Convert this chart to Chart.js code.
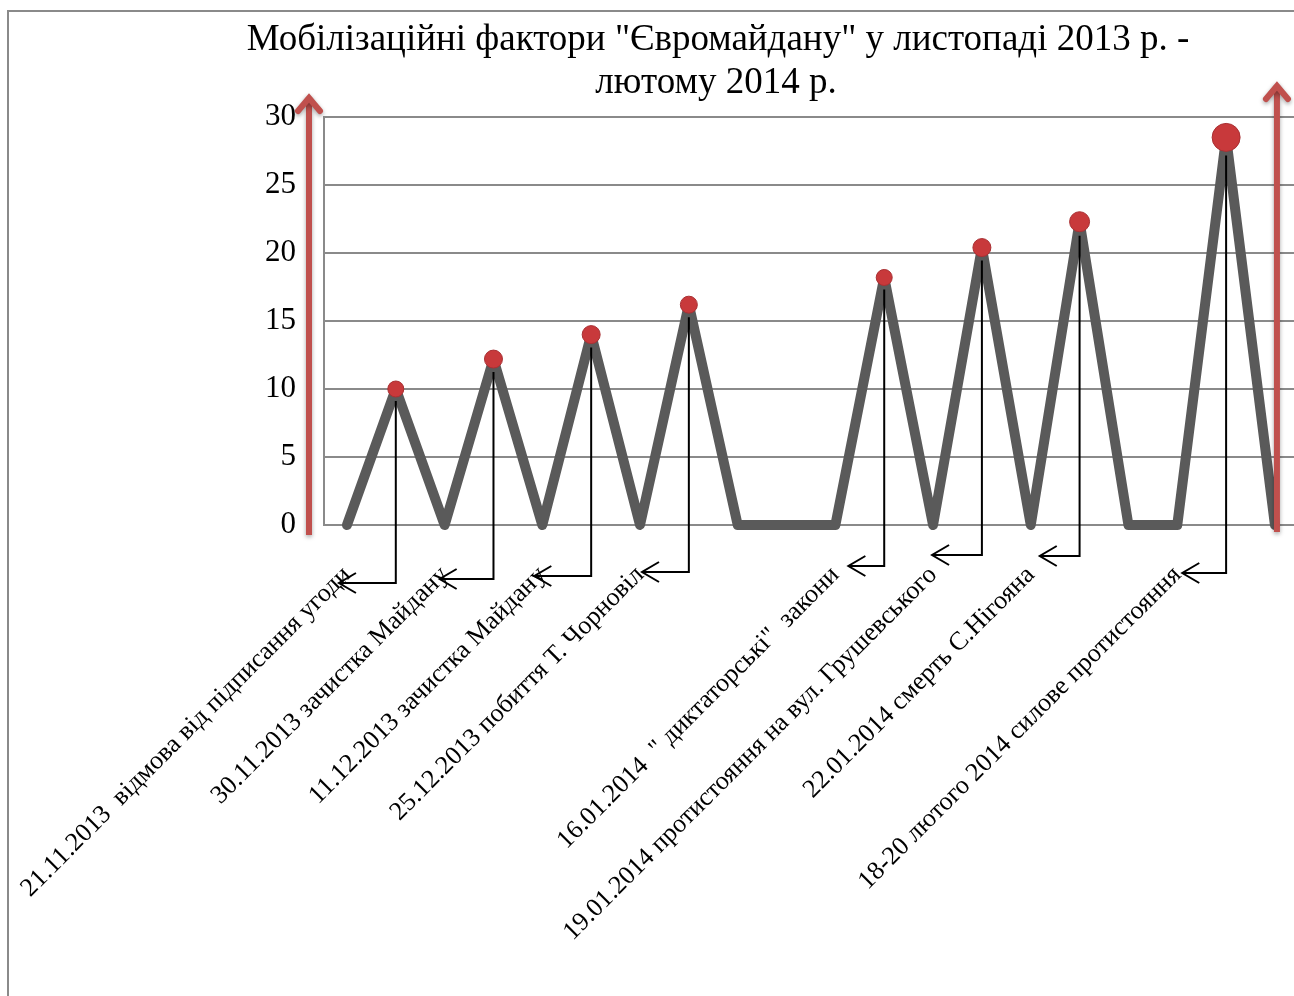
<!DOCTYPE html>
<html><head><meta charset="utf-8">
<script src="https://cdn.jsdelivr.net/npm/chart.js@4"></script>
<style>html,body{margin:0;padding:0;background:#fff}canvas{display:block}</style>
</head><body>
<canvas id="c" width="1294" height="996"></canvas>
<script>
// ---- data ----
const titleLines = ['Мобілізаційні фактори "Євромайдану" у листопаді 2013 р. -', 'лютому 2014 р.'];
const categories = [
  '21.11.2013  відмова від підписання угоди', '',
  '30.11.2013 зачистка Майдану', '',
  '11.12.2013 зачистка Майдану', '',
  '25.12.2013 побиття Т. Чорновіл', '', '', '',
  '16.01.2014  " диктаторські"  закони', '',
  '19.01.2014 протистояння на вул. Грушевського', '',
  '22.01.2014 смерть С.Нігояна', '', '',
  '18-20 лютого 2014 силове протистояння', '', ''
];
const values = [0, 10, 0, 12.2, 0, 14, 0, 16.2, 0, 0, 0, 18.2, 0, 20.4, 0, 22.3, 0, 0, 28.5, 0];
const yTicks = [0, 5, 10, 15, 20, 25, 30];

// ---- styling ----
const dotRadius = [0, 8, 0, 9, 0, 9, 0, 8.5, 0, 0, 0, 8, 0, 9, 0, 10, 0, 0, 14, 0];
const arrowDrop = [58, 54, 51, 47, 41, 30, 31, 48];
const tipShift = [-8, -5, -8, 2, 13, -1, 9, 5];
const FONT = '"Liberation Serif", "Times New Roman", serif';
const labelIdx = categories.map((c, i) => c ? i : -1).filter(i => i >= 0);

const deco = {
  id: 'deco',
  beforeDraw(chart) {
    const ctx = chart.ctx;
    ctx.save();
    ctx.fillStyle = '#fff';
    ctx.fillRect(0, 0, chart.width, chart.height);
    ctx.strokeStyle = '#8a8a8a';
    ctx.lineWidth = 2;
    ctx.strokeRect(8, 11, chart.width + 100, chart.height + 100);
    ctx.restore();
  },
  afterDatasetsDraw(chart) {
    const ctx = chart.ctx, xs = chart.scales.x, ys = chart.scales.y, ca = chart.chartArea;
    ctx.save();
    // annotation arrows
    ctx.strokeStyle = '#000';
    ctx.lineWidth = 2;
    labelIdx.forEach((i, k) => {
      let j = i + 1;
      while (j < values.length && !(values[j] > 0)) j++;
      const px = xs.getPixelForValue(j);
      const py = ys.getPixelForValue(values[j]) + dotRadius[j] + 4;
      const ay = ca.bottom + arrowDrop[k];
      const tx = xs.getPixelForValue(i) + tipShift[k];
      ctx.beginPath();
      ctx.moveTo(px, py);
      ctx.lineTo(px, ay);
      ctx.lineTo(tx, ay);
      ctx.stroke();
      ctx.beginPath();
      ctx.moveTo(tx + 17, ay - 10);
      ctx.lineTo(tx, ay);
      ctx.lineTo(tx + 17, ay + 10);
      ctx.stroke();
    });
    // red arrows
    const red = '#C0504D';
    function redArrow(x, yb, yt) {
      ctx.save();
      ctx.shadowColor = 'rgba(0,0,0,0.35)';
      ctx.shadowBlur = 4;
      ctx.shadowOffsetY = 2;
      ctx.strokeStyle = red;
      ctx.lineWidth = 6;
      ctx.lineCap = 'butt';
      ctx.beginPath();
      ctx.moveTo(x, yb);
      ctx.lineTo(x, yt + 2);
      ctx.stroke();
      ctx.lineCap = 'round';
      ctx.lineJoin = 'miter';
      ctx.beginPath();
      ctx.moveTo(x - 11, yt + 16);
      ctx.lineTo(x, yt + 3);
      ctx.lineTo(x + 11, yt + 16);
      ctx.stroke();
      ctx.restore();
    }
    redArrow(ca.left - 15, ca.bottom + 10, ca.top - 22);
    redArrow(xs.getPixelForValue(values.length - 1) + 2, ca.bottom + 7, ca.top - 34);
    ctx.restore();
  },
  afterDraw(chart) {
    const ctx = chart.ctx;
    ctx.save();
    ctx.fillStyle = '#000';
    ctx.font = '37px ' + FONT;
    ctx.textAlign = 'center';
    ctx.textBaseline = 'alphabetic';
    ctx.fillText(titleLines[0], 718, 50);
    ctx.fillText(titleLines[1], 716, 93);
    ctx.restore();
  }
};

new Chart(document.getElementById('c'), {
  type: 'line',
  data: {
    datasets: [{
      data: values.map((v, i) => ({ x: i, y: v })),
      borderColor: '#5a5a5a',
      borderWidth: 10,
      borderJoinStyle: 'round',
      borderCapStyle: 'round',
      tension: 0,
      pointRadius: c => dotRadius[c.dataIndex],
      pointHoverRadius: c => dotRadius[c.dataIndex],
      pointBackgroundColor: '#C8393B',
      pointBorderColor: '#A93033',
      pointBorderWidth: 1,
      clip: false
    }]
  },
  options: {
    responsive: false,
    animation: false,
    events: [],
    layout: { padding: { top: 117, left: 0, right: 0, bottom: 0 } },
    plugins: { legend: { display: false }, title: { display: false }, tooltip: { enabled: false } },
    scales: {
      x: {
        type: 'linear', min: -0.47, max: 19.39,
        grid: { display: false }, border: { display: false },
        afterBuildTicks: s => { s.ticks = labelIdx.map(v => ({ value: v })); },
        afterFit: s => { s.height = 471; s.paddingLeft = 0; s.paddingRight = 0; },
        ticks: {
          autoSkip: false, minRotation: 45, maxRotation: 45, padding: 27,
          color: '#000', font: { family: FONT, size: 26 },
          callback: v => categories[v] || ''
        }
      },
      y: {
        min: 0, max: 30,
        afterBuildTicks: s => { s.ticks = yTicks.map(v => ({ value: v })); },
        afterFit: s => { s.width = 324; },
        grid: { color: '#8a8a8a', lineWidth: 2, drawTicks: false },
        border: { display: true, color: '#8a8a8a', width: 2 },
        ticks: { padding: 28, color: '#000', font: { family: FONT, size: 31 } }
      }
    }
  },
  plugins: [deco]
});
</script>
</body></html>
